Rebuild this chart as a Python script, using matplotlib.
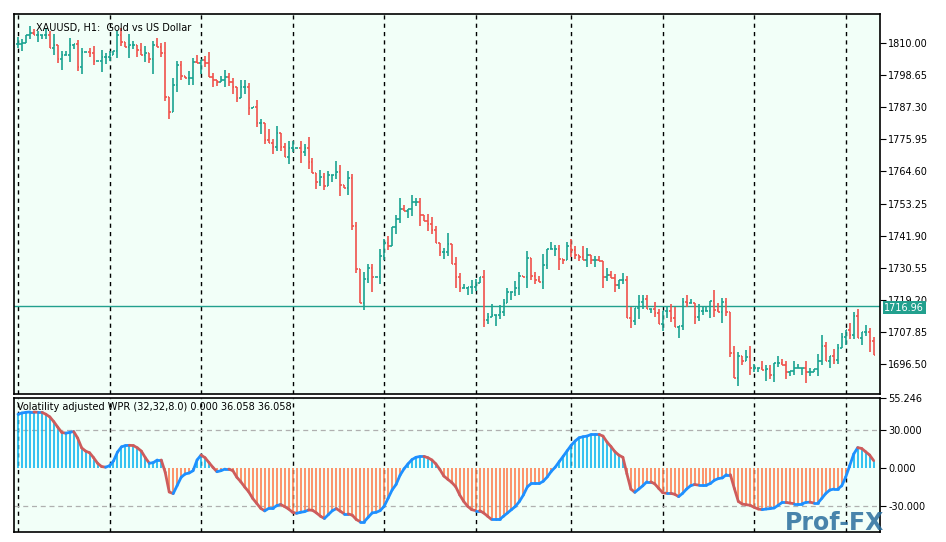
import matplotlib
matplotlib.use("Agg")
import matplotlib.pyplot as plt
import numpy as np

closes = [1809.6,1810,1812.8,1813.5,1812.8,1812.8,1812.8,1812.8,1808.2,1809.3,1804.3,1805.8,1805.8,1809.3,1809.6,1801.5,
1806.8,1806.8,1806.5,1803.6,1803.6,1805.0,1805.0,1805.8,1807.2,1812.8,1810.4,1808.6,1809.3,1809.3,1807.5,1805.8,
1806.5,1804.3,1809.3,1808.6,1806.5,1790.9,1785.6,1795.1,1802.2,1798.3,1797.6,1797.6,1803.3,1802.9,1804.0,1802.9,
1798.0,1796.9,1796.2,1796.9,1798.0,1796.2,1794.4,1790.6,1794.4,1794.4,1787.0,1787.4,1781.7,1781.7,1775.7,1774.6,
1773.2,1778.2,1773.2,1769.7,1772.9,1772.9,1772.9,1771.5,1772.9,1768.0,1764.0,
1760.9,1762.6,1759.4,1763.3,1763.3,1764.4,1759.8,1758.7,1762.3,1745.3,1730.1,1718.1,1726.5,1730.4,1727.3,1727.3,
1734.7,1739.3,1738.2,1744.9,1747.8,1751.3,1750.6,1751.3,1753.8,1753.8,1749.2,1747.1,1746.0,1743.9,1739.3,1736.1,
1736.1,1738.9,1731.9,1727.3,1723.4,1723.4,1723.7,1723.7,1725.1,1727.3,1712.1,1713.1,1713.8,1713.8,1714.9,1718.1,
1721.9,1721.9,1723.4,1727.6,1727.3,1734.0,1727.6,1726.2,1725.5,1731.5,1737.2,1737.2,1737.2,1733.6,1733.3,1738.2,
1736.8,1735.0,1734.3,1733.3,1735.0,1733.3,1733.3,
1732.9,1727.3,1728.0,1726.9,1724.4,1726.2,1726.2,1712.8,1711.7,1716.3,1718.4,1719.5,1716.0,1716.0,1714.5,1710.6,
1715.2,1715.2,1712.8,1709.6,1709.9,1718.4,1718.1,1718.1,1713.1,1715.2,1715.2,1715.2,1718.8,1715.6,1714.9,1718.4,
1714.9,1700.4,1691.5,1699.3,1697.6,1699.0,1695.1,1695.1,1695.1,1694.4,1694.7,1692.6,1696.8,1696.8,1696.1,1693.7,
1694.0,1695.1,1695.1,1695.1,1693.7,1693.7,1694.7,1697.6,1702.9,1697.6,1699.3,1697.9,1702.2,1706.0,1708.5,1706.7,
1713.5,1705.7,1707.8,1707.8,1704.6,1699.7]

# wick extensions beyond open/close, digits in units of 1.3 USD
wick_up = ("2102110213011201101202110120310220121302110212013101211022102103"
           "1201220213102110320211021102120131021102210130211021021302110210"
           "2011302110121032011021102130211021012301210211032110210231021102"
           "110210210231021102120211")
wick_dn = ("1201021102130211201103210210312021401120210220310210212102201310"
           "2110210312021102130211021402110210221302101210310221021031102120"
           "3110210231021102120310211021320110221031102110220311021021103121"
           "021102310210211021102130")

wpr = [42.4,43.4,43.9,44.2,44.2,43.9,43.9,42.4,40.3,36.5,32.1,28.0,27.4,28.0,28.7,23.5,15.8,13.2,11.9,8.0,
3.6,1.0,0.5,1.6,5.4,12.4,16.6,17.6,17.8,17.6,15.8,13.2,8.0,3.6,4.1,6.2,6.2,-3.6,-19.1,-20.4,
-14.0,-7.5,-4.9,-4.1,-2.3,6.2,10.1,8.0,4.1,0.3,-3.1,-2.3,-1.0,-1.0,-2.3,-7.5,-11.1,-15.3,-19.1,-24.3,
-28.2,-32.1,-34.1,-32.1,-32.1,-30.0,-29.0,-30.7,-32.6,-35.2,-36.0,-35.2,-34.7,-33.4,-33.6,-35.7,-38.3,-40.1,-37.0,-33.9,
-32.3,-34.4,-36.5,-36.5,-37.5,-40.9,-42.7,-42.7,-39.1,-35.7,-35.2,-33.9,-30.5,-24.1,-17.6,-13.2,-5.9,-0.8,3.1,6.5,
8.3,9.0,9.0,8.0,6.2,3.1,-1.3,-6.5,-9.1,-11.6,-15.0,-21.5,-26.6,-30.5,-33.1,-33.9,-33.9,-35.7,-38.3,-40.9,
-40.9,-40.9,-38.3,-35.7,-33.1,-30.5,-26.6,-21.5,-15.0,-12.4,-12.4,-12.4,-10.6,-7.2,-2.8,0.5,4.9,9.1,13.5,17.8,
21.2,23.8,24.6,25.1,26.4,26.4,26.4,25.1,20.4,16.8,12.7,10.0,8.3,-4.7,-16.8,-19.4,-16.8,-14.2,-11.1,-11.1,
-12.7,-16.3,-19.7,-20.2,-20.2,-20.9,-22.8,-20.2,-16.8,-14.2,-13.2,-13.7,-13.7,-13.7,-12.4,-9.8,-8.5,-8.0,-5.4,-5.4,
-16.3,-26.6,-28.7,-29.2,-29.7,-31.3,-32.6,-33.1,-32.6,-32.3,-31.8,-29.7,-27.4,-27.4,-27.9,-28.4,-28.4,-28.4,-27.4,-27.2,
-27.9,-27.9,-24.1,-20.2,-17.6,-16.8,-16.8,-14.2,-7.2,1.8,10.9,16.0,15.3,12.7,10.1,5.7]

price_ticks = [1810.00,1798.65,1787.30,1775.95,1764.60,1753.25,1741.90,1730.55,1719.20,1707.85,1696.50]
ind_ticks = [55.246,30.0,0.0,-30.0]
sep_idx = [0,23,46,69,92,115,139,162,185,208]
current_price = 1716.96

BG = "#f2fff8"
UP = "#1aa391"; DN = "#f0524c"
n = len(closes)
x = np.arange(n)
c = np.array(closes)
o = np.concatenate([[c[0]], c[:-1]])
wu = np.array([int(ch) for ch in wick_up[:n]]) * 1.3
wd = np.array([int(ch) for ch in wick_dn[:n]]) * 1.3
hi = np.maximum(o, c) + wu
lo = np.minimum(o, c) - wd
col = [UP if cc >= oo else DN for oo, cc in zip(o, c)]

fig = plt.figure(figsize=(9.46, 5.42), dpi=100)
fig.patch.set_facecolor("white")
W, H = 946, 542
ax = fig.add_axes([14/W, 1-394/H, 866/W, 380/H])
axi = fig.add_axes([14/W, 1-532/H, 866/W, 134/H])
for a in (ax, axi):
    a.set_facecolor(BG)
    a.set_xlim(-1, 216.6)
    a.yaxis.tick_right()
    a.tick_params(axis="y", labelsize=7, length=4, pad=2, direction="out")
    a.set_xticks([])
    for s in a.spines.values():
        s.set_linewidth(1.2)
    for si in sep_idx:
        a.axvline(si, color="black", lw=1, ls=(0, (3, 3)), zorder=1)

ax.set_ylim(1685.9, 1820.25)
ax.set_yticks(price_ticks)
ax.set_yticklabels([f"{t:.2f}" for t in price_ticks])
ax.vlines(x, lo, hi, colors=col, lw=1.2, zorder=3)
ax.hlines(o, x-0.4, x, colors=col, lw=1.2, zorder=3)
ax.hlines(c, x, x+0.4, colors=col, lw=1.2, zorder=3)
ax.axhline(current_price, color="#22a08e", lw=1, zorder=2)
ax.text(1.005, current_price - 0.6, f"{current_price:.2f}", transform=ax.get_yaxis_transform(),
        va="center", ha="left", fontsize=7, color="white",
        bbox=dict(boxstyle="square,pad=0.15", fc="#22a08e", ec="none"))
ax.text(0.025, 0.975, "XAUUSD, H1:  Gold vs US Dollar", transform=ax.transAxes,
        fontsize=7, va="top", ha="left")

v = np.array(wpr[:n])
axi.set_ylim(-50.8, 55.246)
axi.set_yticks(ind_ticks)
axi.set_yticklabels([f"{t:.3f}" for t in ind_ticks])
for lvl in (30, -30):
    axi.axhline(lvl, color="#b0b0b0", lw=0.9, ls=(0, (4, 3)), zorder=1)
hcol = ["#12b8f0" if vv >= 0 else "#ff8050" for vv in v]
axi.vlines(x, 0, v, colors=hcol, lw=1.2, zorder=2)
for i in range(1, n):
    lc = "#1e90ff" if v[i] >= v[i-1] else "#cd5c5c"
    axi.plot([x[i-1], x[i]], [v[i-1], v[i]], color=lc, lw=2, solid_capstyle="round", zorder=3)
axi.text(0.003, 0.97, "Volatility adjusted WPR (32,32,8.0) 0.000 36.058 36.058",
         transform=axi.transAxes, fontsize=7, va="top", ha="left")

fig.text(0.935, 0.012, "Prof-FX", fontsize=17, fontweight="bold", color="#2a6f9e",
         alpha=0.85, ha="right", va="bottom")
fig.savefig("out.png", dpi=100, facecolor="white")
